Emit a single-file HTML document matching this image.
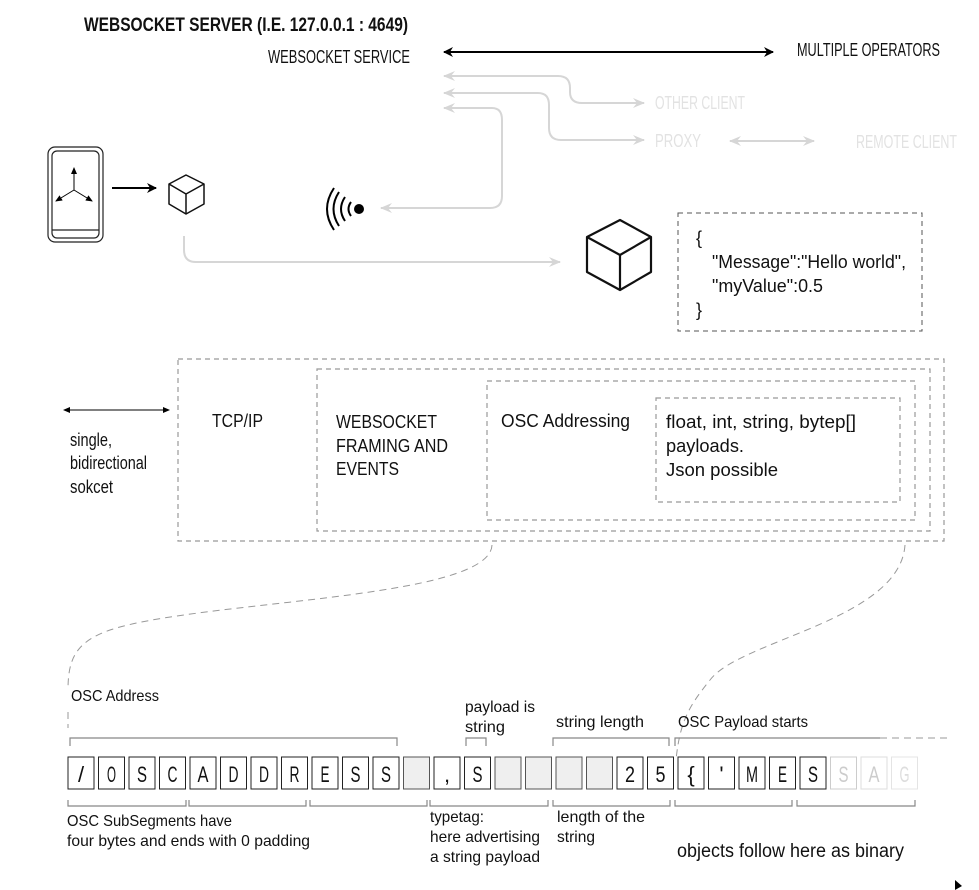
<!DOCTYPE html>
<html><head><meta charset="utf-8"><style>
html,body{margin:0;padding:0;background:#fff;}
svg{display:block;}
text{font-family:"Liberation Sans Narrow","Liberation Sans",sans-serif;fill:#111;}
</style></head><body>
<svg width="979" height="890" viewBox="0 0 979 890" xmlns="http://www.w3.org/2000/svg">
<defs>
<marker id="ab" markerWidth="10" markerHeight="10" refX="9" refY="5" orient="auto-start-reverse" markerUnits="userSpaceOnUse"><path d="M0,0 L10,5 L0,10 L3,5 z" fill="#000"/></marker>
<marker id="ag" markerWidth="12" markerHeight="10" refX="11" refY="5" orient="auto-start-reverse" markerUnits="userSpaceOnUse"><path d="M0,0 L12,5 L0,10 L4,5 z" fill="#d6d6d6"/></marker>
<marker id="abs" markerWidth="7" markerHeight="6" refX="6" refY="3" orient="auto-start-reverse" markerUnits="userSpaceOnUse"><path d="M0,0 L7,3 L0,6 z" fill="#000"/></marker>
</defs>

<!-- header -->
<text x="84" y="31" font-size="19" font-weight="bold" textLength="324" lengthAdjust="spacingAndGlyphs">WEBSOCKET SERVER  (I.E. 127.0.0.1 : 4649)</text>
<text x="268" y="63" font-size="18" textLength="142" lengthAdjust="spacingAndGlyphs">WEBSOCKET SERVICE</text>
<line x1="444" y1="52" x2="773" y2="52" stroke="#000" stroke-width="2" marker-start="url(#ab)" marker-end="url(#ab)"/>
<text x="797" y="56" font-size="18" textLength="143" lengthAdjust="spacingAndGlyphs">MULTIPLE OPERATORS</text>

<!-- gray connectors -->
<g fill="none" stroke="#d6d6d6" stroke-width="2">
<path d="M444,76 H558 Q570,76 570,88 V92 Q570,103 582,103 H644" marker-start="url(#ag)" marker-end="url(#ag)"/>
<path d="M444,93 H538 Q549,93 549,105 V128 Q549,140 561,140 H644" marker-start="url(#ag)" marker-end="url(#ag)"/>
<path d="M444,108 H492 Q502,108 502,120 V196 Q502,208 490,208 H381" marker-start="url(#ag)" marker-end="url(#ag)"/>
<path d="M730,141 H814" marker-start="url(#ag)" marker-end="url(#ag)"/>
<path d="M184,236 V250 Q184,262 196,262 H560" marker-end="url(#ag)"/>
</g>
<g font-size="18" style="fill:#e4e4e4">
<text x="655" y="109" textLength="90" lengthAdjust="spacingAndGlyphs" style="fill:#e2e2e2">OTHER CLIENT</text>
<text x="655" y="147" textLength="46" lengthAdjust="spacingAndGlyphs" style="fill:#e2e2e2">PROXY</text>
<text x="856" y="148" textLength="101" lengthAdjust="spacingAndGlyphs" style="fill:#e2e2e2">REMOTE CLIENT</text>
</g>

<!-- phone -->
<rect x="48" y="147" width="55" height="95" rx="7" fill="none" stroke="#222" stroke-width="1.2"/>
<rect x="52" y="151" width="47" height="87" rx="5" fill="none" stroke="#222" stroke-width="1.2"/>
<line x1="52" y1="230" x2="99" y2="230" stroke="#222" stroke-width="1.2"/>
<g stroke="#000" stroke-width="1">
<line x1="74" y1="190" x2="74" y2="168" marker-end="url(#abs)"/>
<line x1="74" y1="190" x2="56" y2="201" marker-end="url(#abs)"/>
<line x1="74" y1="190" x2="92" y2="201" marker-end="url(#abs)"/>
</g>
<line x1="112" y1="188" x2="156" y2="188" stroke="#000" stroke-width="2" marker-end="url(#ab)"/>

<!-- small cube -->
<g fill="none" stroke="#111" stroke-width="1.5" stroke-linejoin="round">
<path d="M186,175 L204,184 L204,204 L186,214 L169,204 L169,184 Z"/>
<path d="M169,184 L186,194 L204,184 M186,194 V214"/>
</g>
<!-- big cube -->
<g fill="none" stroke="#111" stroke-width="2.2" stroke-linejoin="round">
<path d="M620,220 L651,237 L651,272 L620,290 L587,272 L587,237 Z"/>
<path d="M587,237 L620,255 L651,237 M620,255 V290"/>
</g>

<!-- wifi -->
<circle cx="359" cy="209" r="5" fill="#000"/>
<g fill="none" stroke="#000" stroke-width="2">
<path d="M351,202 Q346,209 351,216"/>
<path d="M345,197 Q337,209 345,221"/>
<path d="M339,192 Q328,209 339,226"/>
<path d="M334,188 Q320,209 334,230"/>
</g>

<!-- json box -->
<rect x="678" y="213" width="244" height="118" fill="none" stroke="#555" stroke-width="1" stroke-dasharray="5,4"/>
<g font-size="18" font-family="Liberation Sans">
<text x="696" y="244" textLength="8">{</text>
<text x="712" y="268" textLength="194" lengthAdjust="spacingAndGlyphs">"Message":"Hello world",</text>
<text x="712" y="292" textLength="111" lengthAdjust="spacingAndGlyphs">"myValue":0.5</text>
<text x="696" y="316" textLength="8">}</text>
</g>

<!-- layers -->
<g fill="none" stroke="#999" stroke-width="1.2" stroke-dasharray="5,4">
<rect x="178" y="359" width="766" height="182"/>
<rect x="317" y="369" width="613" height="162"/>
<rect x="487" y="381" width="428" height="139"/>
<rect x="656" y="398" width="244" height="104"/>
</g>
<line x1="64" y1="410" x2="169" y2="410" stroke="#000" stroke-width="1" marker-start="url(#abs)" marker-end="url(#abs)"/>
<g font-size="18">
<text x="70" y="446" textLength="42" lengthAdjust="spacingAndGlyphs">single,</text>
<text x="70" y="469" textLength="77" lengthAdjust="spacingAndGlyphs">bidirectional</text>
<text x="70" y="493" textLength="43" lengthAdjust="spacingAndGlyphs">sokcet</text>
<text x="212" y="427" textLength="51" lengthAdjust="spacingAndGlyphs">TCP/IP</text>
<text x="336" y="428" textLength="101" lengthAdjust="spacingAndGlyphs">WEBSOCKET</text>
<text x="336" y="452" textLength="112" lengthAdjust="spacingAndGlyphs">FRAMING AND</text>
<text x="336" y="475" textLength="63" lengthAdjust="spacingAndGlyphs">EVENTS</text>
<text x="501" y="427" textLength="129" lengthAdjust="spacingAndGlyphs">OSC Addressing</text>
<text x="666" y="428" textLength="190" lengthAdjust="spacingAndGlyphs">float, int, string, bytep[]</text>
<text x="666" y="452" textLength="78" lengthAdjust="spacingAndGlyphs">payloads.</text>
<text x="666" y="476" textLength="112" lengthAdjust="spacingAndGlyphs">Json possible</text>
</g>

<!-- dashed curves -->
<g fill="none" stroke="#999" stroke-width="1" stroke-dasharray="7,5">
<path d="M492,545 C490,600 200,600 110,630 C75,642 68,660 68,690"/>
<path d="M905,545 C900,620 740,640 710,680 C690,705 680,720 676,760"/>
<path d="M68,712 V728"/>
<path d="M880,738 H948"/>
</g>

<!-- labels above -->
<g font-size="16">
<text x="71" y="701" textLength="88" lengthAdjust="spacingAndGlyphs">OSC Address</text>
<text x="465" y="712" textLength="70" lengthAdjust="spacingAndGlyphs">payload is</text>
<text x="465" y="732" textLength="40" lengthAdjust="spacingAndGlyphs">string</text>
<text x="556" y="727" textLength="88" lengthAdjust="spacingAndGlyphs">string length</text>
<text x="678" y="727" textLength="130" lengthAdjust="spacingAndGlyphs">OSC Payload starts</text>
</g>
<g fill="none" stroke="#888" stroke-width="1.2">
<path d="M70,746 V738 H397 V746"/>
<path d="M466,746 V738 H486 V746"/>
<path d="M553,746 V738 H669 V746"/>
<path d="M675,746 V738 H880"/>
<path d="M68,800 V806 H186 V800"/>
<path d="M189,800 V806 H306 V800"/>
<path d="M310,800 V806 H427 V800"/>
<path d="M430,800 V806 H548 V800"/>
<path d="M553,800 V806 H670 V800"/>
<path d="M675,800 V806 H792 V800"/>
<path d="M797,800 V806 H915 V800"/>
</g>

<!-- byte boxes -->
<g font-size="22" text-anchor="middle">
<rect x="68" y="757" width="26" height="32" fill="#fff" stroke="#222"/><text x="81" y="782" textLength="8">/</text>
<rect x="98.5" y="757" width="26" height="32" fill="#fff" stroke="#222"/><text x="111.5" y="782" textLength="9" lengthAdjust="spacingAndGlyphs">O</text>
<rect x="129" y="757" width="26" height="32" fill="#fff" stroke="#222"/><text x="142" y="782" textLength="10" lengthAdjust="spacingAndGlyphs">S</text>
<rect x="159.5" y="757" width="26" height="32" fill="#fff" stroke="#222"/><text x="172.5" y="782" textLength="10" lengthAdjust="spacingAndGlyphs">C</text>
<rect x="190" y="757" width="26" height="32" fill="#fff" stroke="#222"/><text x="203" y="782" textLength="11" lengthAdjust="spacingAndGlyphs">A</text>
<rect x="220.5" y="757" width="26" height="32" fill="#fff" stroke="#222"/><text x="233.5" y="782" textLength="10" lengthAdjust="spacingAndGlyphs">D</text>
<rect x="251" y="757" width="26" height="32" fill="#fff" stroke="#222"/><text x="264" y="782" textLength="10" lengthAdjust="spacingAndGlyphs">D</text>
<rect x="281.5" y="757" width="26" height="32" fill="#fff" stroke="#222"/><text x="294.5" y="782" textLength="10" lengthAdjust="spacingAndGlyphs">R</text>
<rect x="312" y="757" width="26" height="32" fill="#fff" stroke="#222"/><text x="325" y="782" textLength="9" lengthAdjust="spacingAndGlyphs">E</text>
<rect x="342.5" y="757" width="26" height="32" fill="#fff" stroke="#222"/><text x="355.5" y="782" textLength="10" lengthAdjust="spacingAndGlyphs">S</text>
<rect x="373" y="757" width="26" height="32" fill="#fff" stroke="#222"/><text x="386" y="782" textLength="10" lengthAdjust="spacingAndGlyphs">S</text>
<rect x="403.5" y="757" width="26" height="32" fill="#efefef" stroke="#555"/>
<rect x="434" y="757" width="26" height="32" fill="#fff" stroke="#222"/><text x="447" y="782">,</text>
<rect x="464.5" y="757" width="26" height="32" fill="#fff" stroke="#222"/><text x="477.5" y="782" textLength="10" lengthAdjust="spacingAndGlyphs">S</text>
<rect x="495" y="757" width="26" height="32" fill="#efefef" stroke="#555"/>
<rect x="525.5" y="757" width="26" height="32" fill="#efefef" stroke="#555"/>
<rect x="556" y="757" width="26" height="32" fill="#efefef" stroke="#555"/>
<rect x="586.5" y="757" width="26" height="32" fill="#efefef" stroke="#555"/>
<rect x="617" y="757" width="26" height="32" fill="#fff" stroke="#222"/><text x="630" y="782" textLength="10" lengthAdjust="spacingAndGlyphs">2</text>
<rect x="647.5" y="757" width="26" height="32" fill="#fff" stroke="#222"/><text x="660.5" y="782" textLength="10" lengthAdjust="spacingAndGlyphs">5</text>
<rect x="678" y="757" width="26" height="32" fill="#fff" stroke="#222"/><text x="691" y="782">{</text>
<rect x="708.5" y="757" width="26" height="32" fill="#fff" stroke="#222"/><text x="721.5" y="782">'</text>
<rect x="739" y="757" width="26" height="32" fill="#fff" stroke="#222"/><text x="752" y="782" textLength="12" lengthAdjust="spacingAndGlyphs">M</text>
<rect x="769.5" y="757" width="26" height="32" fill="#fff" stroke="#222"/><text x="782.5" y="782" textLength="9" lengthAdjust="spacingAndGlyphs">E</text>
<rect x="800" y="757" width="26" height="32" fill="#fff" stroke="#222"/><text x="813" y="782" textLength="10" lengthAdjust="spacingAndGlyphs">S</text>
<rect x="830.5" y="757" width="26" height="32" fill="#fff" stroke="#ccc"/><text x="843.5" y="782" textLength="10" lengthAdjust="spacingAndGlyphs" style="fill:#ccc">S</text>
<rect x="861" y="757" width="26" height="32" fill="#fff" stroke="#ddd"/><text x="874" y="782" textLength="11" lengthAdjust="spacingAndGlyphs" style="fill:#ccc">A</text>
<rect x="891.5" y="757" width="26" height="32" fill="#fff" stroke="#e4e4e4"/><text x="904.5" y="782" textLength="10" lengthAdjust="spacingAndGlyphs" style="fill:#ddd">G</text>
</g>

<!-- labels below -->
<g font-size="16">
<text x="67" y="826" textLength="165" lengthAdjust="spacingAndGlyphs">OSC SubSegments have</text>
<text x="67" y="846" textLength="243" lengthAdjust="spacingAndGlyphs">four bytes and ends with 0 padding</text>
<text x="430" y="822" textLength="54" lengthAdjust="spacingAndGlyphs">typetag:</text>
<text x="430" y="842" textLength="110" lengthAdjust="spacingAndGlyphs">here advertising</text>
<text x="430" y="862" textLength="110" lengthAdjust="spacingAndGlyphs">a string payload</text>
<text x="557" y="822" textLength="88" lengthAdjust="spacingAndGlyphs">length of the</text>
<text x="557" y="842" textLength="38" lengthAdjust="spacingAndGlyphs">string</text>
<text x="677" y="857" font-size="19" textLength="227" lengthAdjust="spacingAndGlyphs">objects follow here as binary</text>
</g>
<path d="M955,880 L962,886 L955,890 Z" fill="#000"/>
</svg>
</body></html>
